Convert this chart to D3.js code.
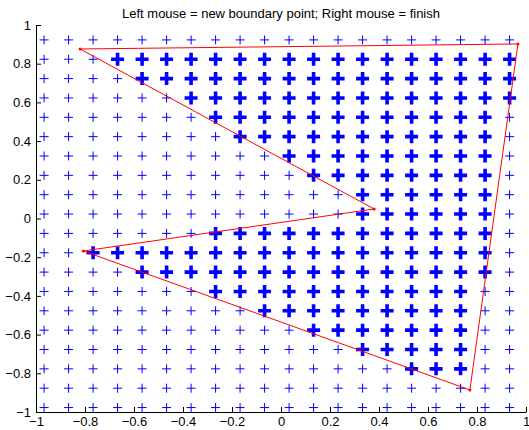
<!DOCTYPE html>
<html>
<head>
<meta charset="utf-8">
<script src="https://cdn.jsdelivr.net/npm/d3@7"></script>
<style>
  body { margin: 0; background: #fff; }
  svg { display: block; font-family: "Liberation Sans", Arial, Helvetica, sans-serif; }
  .axis path, .axis line { stroke: #000; }
  .axis text { font-size: 13px; fill: #000; }
</style>
</head>
<body>
<div id="chart"></div>
<script>
// sample grid
var gridX = [-0.967, -0.867, -0.767, -0.667, -0.567, -0.467, -0.367, -0.267, -0.167, -0.067,
             0.033, 0.133, 0.233, 0.333, 0.433, 0.533, 0.633, 0.733, 0.833, 0.933];
var gridY = [0.923, 0.823, 0.723, 0.623, 0.523, 0.423, 0.323, 0.223, 0.123, 0.023,
             -0.077, -0.177, -0.277, -0.377, -0.477, -0.577, -0.677, -0.777, -0.877, -0.977];

// per row (top to bottom): first and last column index of the points inside the boundary
var insideFrom = [null, 3, 4, 6, 7, 8, 10, 11, 13, 13, 7, 2, 4, 7, 9, 11, 13, 15, null, null];
var insideTo   = [null, 19, 19, 19, 18, 18, 18, 18, 18, 18, 18, 18, 18, 17, 17, 17, 17, 17, null, null];

// boundary clicked by the user
var boundaryX = [-0.820, 0.967, 0.771, -0.807, 0.380, -0.820];
var boundaryY = [0.876, 0.902, -0.886, -0.168, 0.049, 0.876];

var tickValues = [-1, -0.8, -0.6, -0.4, -0.2, 0, 0.2, 0.4, 0.6, 0.8, 1];
var titleText = "Left mouse = new boundary point; Right mouse = finish";

var totalWidth = 529, totalHeight = 430;
var margin = { top: 25, right: 3, bottom: 18, left: 36 };
var width = totalWidth - margin.left - margin.right;
var height = totalHeight - margin.top - margin.bottom;

var svg = d3.select("#chart").append("svg")
    .attr("width", totalWidth)
    .attr("height", totalHeight);

var g = svg.append("g")
    .attr("transform", "translate(" + margin.left + "," + margin.top + ")");

var x = d3.scaleLinear().domain([-1, 1]).range([0, width]);
var y = d3.scaleLinear().domain([-1, 1]).range([height, 0]);

var fmt = function(d) { return d3.format("")(d).replace("-", "\u2212"); };

// markers
var points = [];
gridY.forEach(function(yv, r) {
  gridX.forEach(function(xv, c) {
    var inside = insideFrom[r] !== null && c >= insideFrom[r] && c <= insideTo[r];
    points.push({ x: xv, y: yv, inside: inside });
  });
});

function plus(h) {
  return "M" + (-h) + ",0H" + h + "M0," + (-h) + "V" + h;
}

g.selectAll("path.thin")
  .data(points.filter(function(d) { return !d.inside; }))
  .enter().append("path")
    .attr("class", "thin")
    .attr("transform", function(d) { return "translate(" + x(d.x) + "," + y(d.y) + ")"; })
    .attr("d", plus(4.5))
    .attr("stroke", "#0000ff")
    .attr("stroke-width", 1)
    .attr("fill", "none");

g.selectAll("path.bold")
  .data(points.filter(function(d) { return d.inside; }))
  .enter().append("path")
    .attr("class", "bold")
    .attr("transform", function(d) { return "translate(" + x(d.x) + "," + y(d.y) + ")"; })
    .attr("d", plus(6.5))
    .attr("stroke", "#0000ff")
    .attr("stroke-width", 3.6)
    .attr("fill", "none");

// boundary
var boundary = boundaryX.map(function(v, i) { return [v, boundaryY[i]]; });

g.append("path")
  .datum(boundary)
  .attr("d", d3.line().x(function(d) { return x(d[0]); }).y(function(d) { return y(d[1]); }))
  .attr("stroke", "#ff0000")
  .attr("stroke-width", 1)
  .attr("fill", "none");

g.selectAll("circle.vertex")
  .data(boundary.slice(0, boundary.length - 1))
  .enter().append("circle")
    .attr("class", "vertex")
    .attr("cx", function(d) { return x(d[0]); })
    .attr("cy", function(d) { return y(d[1]); })
    .attr("r", 1.5)
    .attr("fill", "#ff0000");

// axes, ticks pointing inwards
g.append("g")
  .attr("class", "x axis")
  .attr("transform", "translate(0," + height + ")")
  .call(d3.axisBottom(x).tickValues(tickValues).tickFormat(fmt)
    .tickSizeInner(-5).tickSizeOuter(0).tickPadding(5));

g.append("g")
  .attr("class", "y axis")
  .call(d3.axisLeft(y).tickValues(tickValues).tickFormat(fmt)
    .tickSizeInner(-5).tickSizeOuter(0).tickPadding(5));

svg.append("text")
  .attr("x", margin.left + width / 2)
  .attr("y", 18)
  .attr("text-anchor", "middle")
  .style("font-size", "13px")
  .text(titleText);
</script>
</body>
</html>
